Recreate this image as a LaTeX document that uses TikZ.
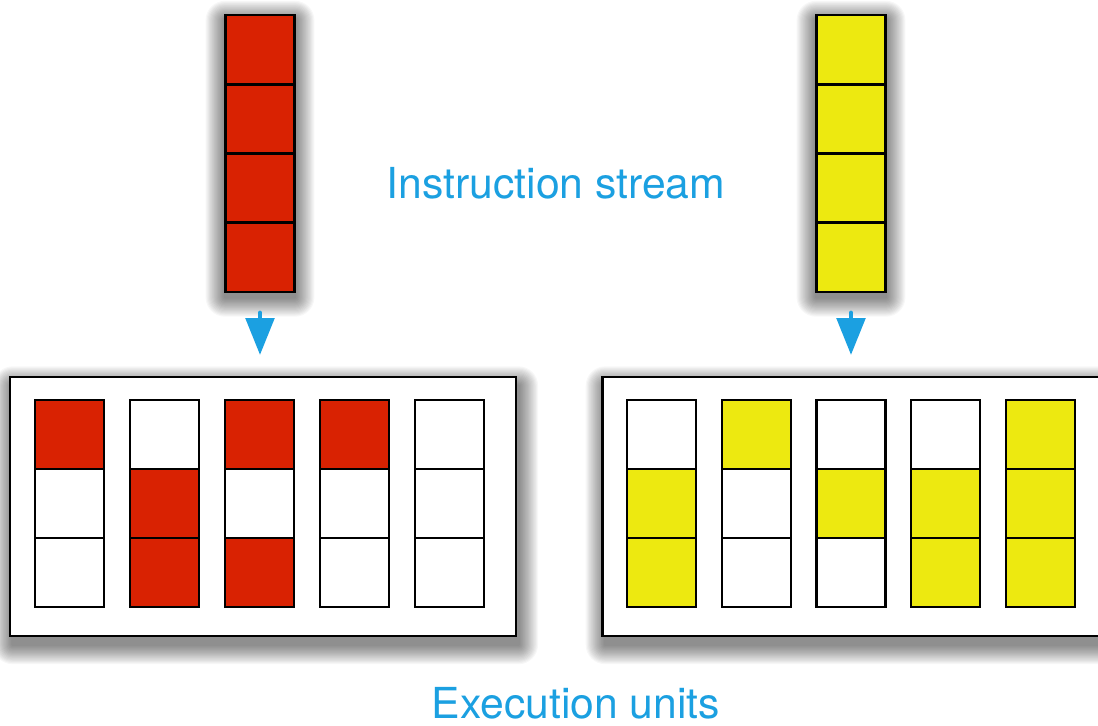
\documentclass[tikz,border=0pt]{standalone}
\usepackage{fontspec}
\newfontfamily\labelfont{TeX Gyre Heros}
\usepackage{tikz}
\usetikzlibrary{arrows.meta,backgrounds}

\definecolor{instred}{RGB}{217,34,2}
\definecolor{instyellow}{RGB}{237,233,16}
\definecolor{streamblue}{RGB}{27,160,225}

% soft shadow behind a node: node, xshift, yshift
\newcommand{\softshadow}[3]{%
  \foreach \k [evaluate=\k as \r using \k*0.65] in {1,...,17}
    \fill[black, opacity=0.032, rounded corners=\r pt]
      ([xshift=#2-\r pt, yshift=#3+\r pt]#1.north west) rectangle ([xshift=#2+\r pt, yshift=#3-\r pt]#1.south east);
}

\tikzset{
  cell/.style={draw, line width=1.4pt, minimum width=13.8mm, minimum height=13.8mm, inner sep=0pt, outer sep=0pt},
  stream/.style={draw, line width=1.6pt, minimum width=14mm, minimum height=55.4mm, inner sep=0pt, outer sep=0pt},
  unitbox/.style={draw, fill=white, line width=1.6pt, minimum width=101.2mm, minimum height=51.8mm, inner sep=0pt, outer sep=0pt},
  feed/.style={draw=streamblue, line width=2.8pt, line cap=round, -{Triangle[width=16pt,length=21pt]},
    shorten <=12pt, shorten >=12.5pt},
  caption/.style={text=streamblue, font=\labelfont\fontsize{24.3}{28}\selectfont, inner sep=0pt, anchor=base}
}

\begin{document}
\begin{tikzpicture}[x=0.2mm,y=-0.2mm]
\useasboundingbox (0,0) rectangle (1098,726);

% instruction streams
\node[stream, fill=instred] (redstream) at (260,153.5) {};
\node[stream, fill=instyellow] (yellowstream) at (851,153.5) {};
\foreach \i in {1,...,4} {
  \node[cell, fill=instred] (red-\i) at (260,{15+69.25*(\i-0.5)}) {};
  \node[cell, fill=instyellow] (yellow-\i) at (851,{15+69.25*(\i-0.5)}) {};
}

% execution units
\node[unitbox] (redunits) at (263,506.5) {};
\node[unitbox] (yellowunits) at (855.5,506.5) {};
\foreach \c/\ra/\rb/\rc in {1/instred/white/white, 2/white/instred/instred, 3/instred/white/instred,
                            4/instred/white/white, 5/white/white/white} {
  \node[cell, fill=\ra] (ru-\c-1) at ({69.5+95*(\c-1)},434.5) {};
  \node[cell, fill=\rb] (ru-\c-2) at ({69.5+95*(\c-1)},503.5) {};
  \node[cell, fill=\rc] (ru-\c-3) at ({69.5+95*(\c-1)},572.5) {};
}
\foreach \c/\ra/\rb/\rc in {1/white/instyellow/instyellow, 2/instyellow/white/white, 3/white/instyellow/white,
                            4/white/instyellow/instyellow, 5/instyellow/instyellow/instyellow} {
  \node[cell, fill=\ra] (yu-\c-1) at ({661.5+94.75*(\c-1)},434.5) {};
  \node[cell, fill=\rb] (yu-\c-2) at ({661.5+94.75*(\c-1)},503.5) {};
  \node[cell, fill=\rc] (yu-\c-3) at ({661.5+94.75*(\c-1)},572.5) {};
}

\draw[feed] (redstream.south) -- (redstream.south |- redunits.north);
\draw[feed] (yellowstream.south) -- (yellowstream.south |- yellowunits.north);

\node[caption] (streamlabel) at (556,199) {Instruction stream};
\node[caption] (unitslabel) at (576,718) {Execution units};

\begin{scope}[on background layer]
\fill[white] (0,0) rectangle (1098,726);
\softshadow{redstream}{0pt}{-3pt}
\softshadow{yellowstream}{0pt}{-3pt}
\softshadow{redunits}{1.5pt}{-5pt}
\softshadow{yellowunits}{1.5pt}{-5pt}
\end{scope}
\end{tikzpicture}
\end{document}
